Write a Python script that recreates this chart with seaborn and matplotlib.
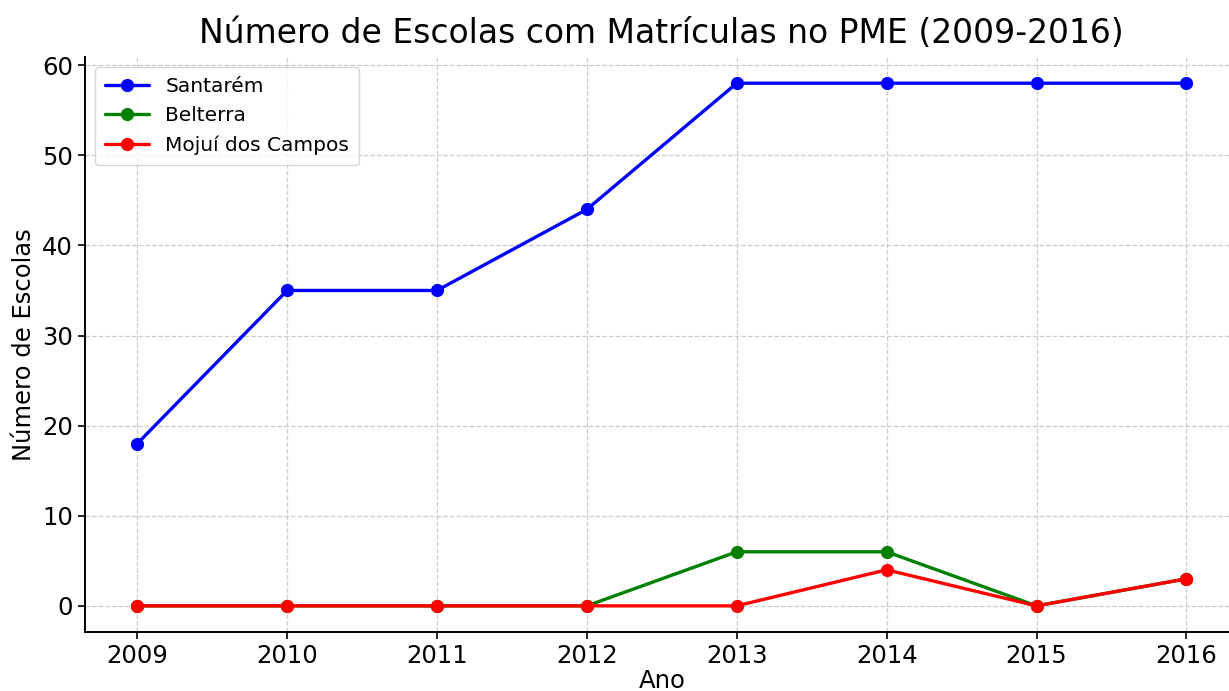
import numpy as np
import matplotlib
matplotlib.use("Agg")
import matplotlib.pyplot as plt
import pandas as pd
import seaborn as sns

anos = [2009, 2010, 2011, 2012, 2013, 2014, 2015, 2016]
santarem = [18, 35, 35, 44, 58, 58, 58, 58]
belterra = [0, 0, 0, 0, 6, 6, 0, 3]
mojui = [0, 0, 0, 0, 0, 4, 0, 3]

series = {"Santarém": santarem, "Belterra": belterra, "Mojuí dos Campos": mojui}
cores = {"Santarém": "blue", "Belterra": "green", "Mojuí dos Campos": "red"}

df = pd.DataFrame([
    {"Ano": a, "Escolas": v, "Município": nome}
    for nome, vals in series.items() for a, v in zip(anos, vals)
])

sns.set_style("ticks")
plt.rcParams["font.family"] = ["DejaVu Sans"]
plt.rcParams["text.color"] = "black"
plt.rcParams["axes.labelcolor"] = "black"
plt.rcParams["xtick.color"] = "black"
plt.rcParams["ytick.color"] = "black"

fig = plt.figure(figsize=(12.29, 6.91), dpi=100)
ax = fig.add_axes([0.069, 0.0854, 0.939, 0.832])

for nome in series:
    sub = df[df["Município"] == nome]
    sns.lineplot(data=sub, x="Ano", y="Escolas", ax=ax, color=cores[nome],
                 marker="o", markersize=9.5, markeredgewidth=0, linewidth=2.4,
                 label=nome)

ax.set_xticks(anos)
ax.set_title("Número de Escolas com Matrículas no PME (2009-2016)", fontsize=23.8, pad=10)
ax.set_xlabel("Ano", fontsize=17.5, labelpad=1)
ax.set_ylabel("Número de Escolas", fontsize=17.5)
ax.tick_params(labelsize=17.5, direction="out", length=5, width=1.2)
ax.grid(True, linestyle="--", color="#cccccc", linewidth=0.9)
ax.set_axisbelow(True)
sns.despine(ax=ax)
for s in ["left", "bottom"]:
    ax.spines[s].set_linewidth(1.4)
    ax.spines[s].set_color("black")

ax.legend(loc="upper left", fontsize=14.5, frameon=True, fancybox=True,
          borderpad=0.5, handlelength=2.2)

fig.savefig("out.png", dpi=100)
